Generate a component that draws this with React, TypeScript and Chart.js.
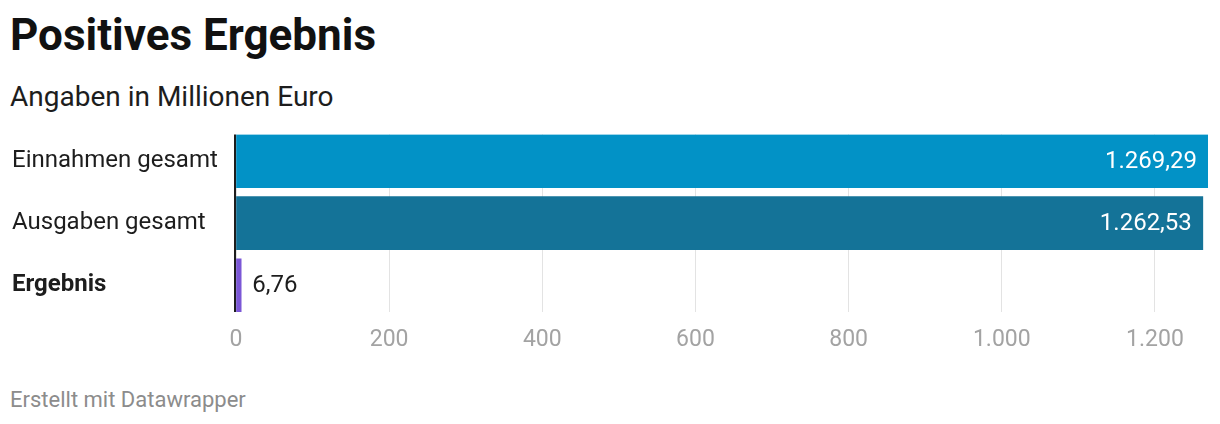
import React, { useEffect, useRef } from "react";
import { Chart, registerables } from "chart.js";

Chart.register(...registerables);

const categories = ["Einnahmen gesamt", "Ausgaben gesamt", "Ergebnis"];
const values = [1269.29, 1262.53, 6.76];
const valueLabels = ["1.269,29", "1.262,53", "6,76"];
const barColors = ["#0292c6", "#147398", "#7b57d6"];
const xTickValues = [0, 200, 400, 600, 800, 1000, 1200];
const xTickLabels = ["0", "200", "400", "600", "800", "1.000", "1.200"];
const boldCategory = [false, false, true];

const FONT = "Roboto, 'Noto Sans', sans-serif";

const valueLabelPlugin = {
  id: "valueLabels",
  afterDatasetsDraw(chart: any) {
    const ctx = chart.ctx;
    const meta = chart.getDatasetMeta(0);
    const xScale = chart.scales.x;
    ctx.save();
    const x0 = xScale.getPixelForValue(0);
    ctx.strokeStyle = "#1d1d1d";
    ctx.lineWidth = 2;
    ctx.beginPath();
    ctx.moveTo(x0 - 1, chart.chartArea.top);
    ctx.lineTo(x0 - 1, chart.chartArea.bottom);
    ctx.stroke();

    ctx.font = `400 24px ${FONT}`;
    ctx.textBaseline = "middle";
    meta.data.forEach((bar: any, i: number) => {
      const label = valueLabels[i];
      const w = ctx.measureText(label).width;
      const barW = bar.x - bar.base;
      if (barW > w + 24) {
        ctx.fillStyle = "#ffffff";
        ctx.textAlign = "right";
        ctx.fillText(label, bar.x - 11, bar.y + 1);
      } else {
        ctx.fillStyle = "#1d1d1d";
        ctx.textAlign = "left";
        ctx.fillText(label, bar.x + 11, bar.y + 1);
      }
    });
    ctx.restore();
  },
};

export default function App() {
  const canvasRef = useRef<HTMLCanvasElement | null>(null);

  useEffect(() => {
    if (!canvasRef.current) return;
    const chart = new Chart(canvasRef.current, {
      type: "bar",
      data: {
        datasets: [
          {
            data: values.map((v, i) => ({ x: v, y: i })),
            backgroundColor: barColors,
            barThickness: 53,
            borderWidth: 0,
          },
        ],
      },
      options: {
        animation: false,
        responsive: true,
        maintainAspectRatio: false,
        indexAxis: "y",
        layout: { padding: { left: 12, right: 12, top: 14, bottom: 0 } },
        plugins: {
          legend: { display: false },
          tooltip: { enabled: false },
          title: { display: false },
        },
        scales: {
          x: {
            type: "linear",
            position: "bottom",
            min: 0,
            max: 1269.29,
            offset: false,
            afterBuildTicks: (scale: any) => {
              scale.ticks = xTickValues.map((v) => ({ value: v }));
            },
            afterFit: (scale: any) => {
              scale.height = 48;
            },
            grid: {
              color: "#e3e3e3",
              lineWidth: 1,
              drawTicks: false,
              offset: false,
            },
            border: { display: false },
            ticks: {
              padding: 14,
              color: "#a3a3a3",
              font: { family: FONT, size: 23 },
              autoSkip: false,
              maxRotation: 0,
              callback: (_v: any, i: number) => xTickLabels[i],
            },
          },
          y: {
            type: "linear",
            reverse: true,
            offset: false,
            min: -0.43,
            max: 2.43,
            afterBuildTicks: (scale: any) => {
              scale.ticks = categories.map((_c, i) => ({ value: i }));
            },
            afterFit: (scale: any) => {
              scale.width = 224;
            },
            grid: { display: false, offset: false },
            border: { display: false },
            ticks: {
              autoSkip: false,
              padding: 0,
              crossAlign: "far",
              color: "#1d1d1d",
              font: (ctx: any) => ({
                family: FONT,
                size: 24,
                weight: boldCategory[ctx.index] ? "bold" : "normal",
              }),
              callback: (_v: any, i: number) => categories[i],
            },
          },
        },
      },
      plugins: [valueLabelPlugin],
    } as any);
    return () => chart.destroy();
  }, []);

  return (
    <div
      style={{
        position: "absolute",
        left: 0,
        top: 0,
        width: 1220,
        height: 424,
        background: "#ffffff",
        fontFamily: FONT,
        overflow: "hidden",
      }}
    >
      <div
        style={{
          position: "absolute",
          left: 10,
          top: 9,
          fontSize: 44,
          lineHeight: "52px",
          fontWeight: 700,
          color: "#111111",
          whiteSpace: "nowrap",
        }}
      >
        Positives Ergebnis
      </div>
      <div
        style={{
          position: "absolute",
          left: 10,
          top: 81,
          fontSize: 28,
          lineHeight: "32px",
          color: "#1d1d1d",
          whiteSpace: "nowrap",
        }}
      >
        Angaben in Millionen Euro
      </div>
      <div
        style={{
          position: "absolute",
          left: 0,
          top: 120,
          width: 1220,
          height: 240,
        }}
      >
        <canvas ref={canvasRef} />
      </div>
      <div
        style={{
          position: "absolute",
          left: 10,
          top: 387,
          fontSize: 22,
          lineHeight: "26px",
          color: "#8c8c8c",
          whiteSpace: "nowrap",
        }}
      >
        Erstellt mit Datawrapper
      </div>
    </div>
  );
}
